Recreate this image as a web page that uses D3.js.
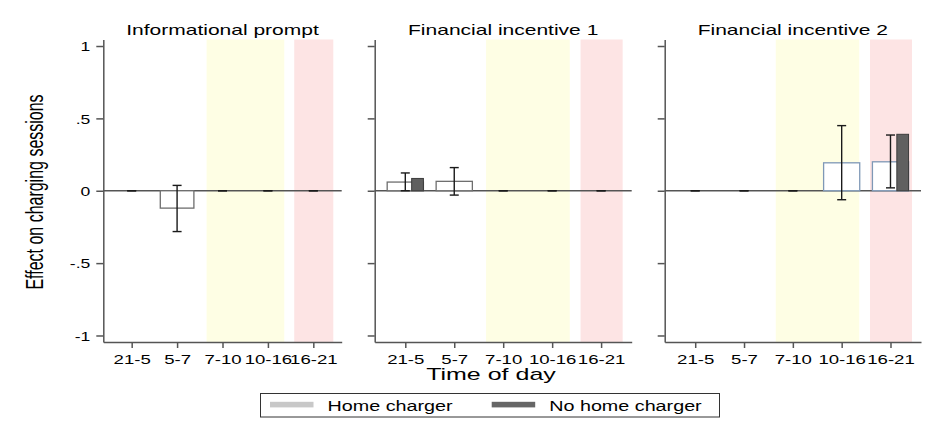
<!DOCTYPE html>
<html>
<head>
<meta charset="utf-8">
<script src="https://cdn.jsdelivr.net/npm/d3@7"></script>
<style>
  body { margin: 0; background: #fff; }
  text { font-family: "Liberation Sans", Arial, Helvetica, sans-serif; fill: #000; }
</style>
</head>
<body>
<svg id="chart" width="927" height="426"></svg>
<script>
"use strict"

// ---------------- data ----------------
const categories = ["21-5", "5-7", "7-10", "10-16", "16-21"];
const panelTitles = ["Informational prompt", "Financial incentive 1", "Financial incentive 2"];
// effect for drivers with a home charger (one row per panel)
const homeValues = [
    [0, -0.12, 0, 0, 0],
    [0.06, 0.065, 0, 0, 0],
    [0, 0, 0, 0.193, 0.2]
];
// effect for drivers without a home charger (null = not shown)
const noHomeValues = [
    [null, null, null, null, null],
    [0.085, null, null, null, null],
    [null, null, null, null, 0.39]
];
const ciLow = [
    [0, -0.282, 0, 0, 0],
    [0, -0.03, 0, 0, 0],
    [0, 0, 0, -0.062, 0.02]
];
const ciHigh = [
    [0, 0.037, 0, 0, 0],
    [0.123, 0.16, 0, 0, 0],
    [0, 0, 0, 0.45, 0.385]
];
const yTicks = [-1, -0.5, 0, 0.5, 1];
const yTickLabels = ["-1", "-.5", "0", ".5", "1"];
// shaded periods, in category units (1 = "21-5" ... 5 = "16-21")
const peakBands = [[2.65, 4.36], [4.58, 5.44]];
const bandColors = ["#fefee4", "#fde4e4"];
const legendLabels = ["Home charger", "No home charger"];

// ---------------- layout ----------------
const svg = d3.select("#chart");
const plotTop = 39.5, plotBottom = 342;
const panelX = [[103.3, 341.7], [374.7, 631.7], [664.7, 921]];
const homeStroke = ["#6e6e6e", "#6e6e6e", "#7f98b6"];

const y = d3.scaleLinear().domain([-1.045, 1.045]).range([plotBottom, plotTop]);

// Stata output looks horizontally stretched: widen horizontal text
const stretch = (sel, k) => sel.each(function () {
    const w = this.getComputedTextLength();
    this.setAttribute("textLength", w * k);
    this.setAttribute("lengthAdjust", "spacingAndGlyphs");
});

panelTitles.forEach((title, p) => {
    const [x0, x1] = panelX[p];
    const x = d3.scaleLinear().domain([0.375, 5.625]).range([x0, x1]);
    const g = svg.append("g");

    // shaded time bands
    g.selectAll("rect.band").data(peakBands).join("rect")
        .attr("class", "band")
        .attr("x", d => x(d[0]))
        .attr("width", d => x(d[1]) - x(d[0]))
        .attr("y", plotTop)
        .attr("height", plotBottom - plotTop)
        .attr("fill", (d, i) => bandColors[i]);

    // zero line
    g.append("line")
        .attr("x1", x0).attr("x2", x1)
        .attr("y1", y(0)).attr("y2", y(0))
        .attr("stroke", "#555").attr("stroke-width", 1.5);

    const idx = categories.map((c, i) => i);

    // home charger bars
    g.selectAll("rect.home").data(idx.filter(i => homeValues[p][i] !== 0)).join("rect")
        .attr("class", "home")
        .attr("x", i => x(i + 1 - 0.37))
        .attr("width", i => x(i + 1 + 0.37) - x(i + 1 - 0.37))
        .attr("y", i => y(Math.max(0, homeValues[p][i])))
        .attr("height", i => Math.abs(y(homeValues[p][i]) - y(0)))
        .attr("fill", "#fff")
        .attr("stroke", homeStroke[p])
        .attr("stroke-width", 1.3);

    // no home charger bars
    g.selectAll("rect.nohome").data(idx.filter(i => noHomeValues[p][i] != null)).join("rect")
        .attr("class", "nohome")
        .attr("x", i => x(i + 1 + 0.13))
        .attr("width", i => x(i + 1 + 0.37) - x(i + 1 + 0.13))
        .attr("y", i => y(Math.max(0, noHomeValues[p][i])))
        .attr("height", i => Math.abs(y(noHomeValues[p][i]) - y(0)))
        .attr("fill", "#606060")
        .attr("stroke", "#3c3c3c")
        .attr("stroke-width", 1);

    // confidence intervals
    const ci = g.selectAll("g.ci").data(idx).join("g").attr("class", "ci")
        .attr("stroke", "#1a1a1a").attr("stroke-width", 1.4);
    ci.append("line")
        .attr("x1", i => x(i + 1)).attr("x2", i => x(i + 1))
        .attr("y1", i => y(ciLow[p][i])).attr("y2", i => y(ciHigh[p][i]));
    ci.append("line")
        .attr("x1", i => x(i + 1) - 4.5).attr("x2", i => x(i + 1) + 4.5)
        .attr("y1", i => y(ciLow[p][i])).attr("y2", i => y(ciLow[p][i]));
    ci.append("line")
        .attr("x1", i => x(i + 1) - 4.5).attr("x2", i => x(i + 1) + 4.5)
        .attr("y1", i => y(ciHigh[p][i])).attr("y2", i => y(ciHigh[p][i]));

    // axes
    const yAxis = d3.axisLeft(y)
        .tickValues(yTicks)
        .tickFormat((d, i) => p === 0 ? yTickLabels[i] : "")
        .tickSize(7).tickSizeOuter(0).tickPadding(6);
    const yG = g.append("g").attr("transform", `translate(${x0},0)`).call(yAxis);

    const xAxis = d3.axisBottom(x)
        .tickValues(categories.map((c, i) => i + 1))
        .tickFormat(d => categories[d - 1])
        .tickSize(6).tickSizeOuter(0).tickPadding(4);
    const xG = g.append("g").attr("transform", `translate(0,${plotBottom})`).call(xAxis);

    [yG, xG].forEach(a => {
        a.attr("font-family", null).attr("font-size", null);
        a.selectAll("path, line").attr("stroke", "#555").attr("stroke-width", 1.5);
    });
    yG.selectAll("text").attr("font-size", 13.5).attr("dy", "0.35em");
    stretch(yG.selectAll("text"), 1.3);
    xG.selectAll("text").attr("font-size", 13).attr("dy", "0.9em");
    stretch(xG.selectAll("text"), 1.43);

    // panel title
    g.append("text")
        .attr("x", (x0 + x1) / 2).attr("y", 35)
        .attr("text-anchor", "middle")
        .attr("font-size", 15)
        .text(title)
        .call(stretch, 1.4);
});

// y-axis title
svg.append("text")
    .attr("transform", `translate(43,192) scale(1.5,1) rotate(-90)`)
    .attr("text-anchor", "middle")
    .attr("font-size", 16)
    .text("Effect on charging sessions");

// x-axis title
svg.append("text")
    .attr("x", 491).attr("y", 380)
    .attr("text-anchor", "middle")
    .attr("font-size", 17)
    .text("Time of day")
    .call(stretch, 1.47);

// ---------------- legend ----------------
const legend = svg.append("g");
legend.append("rect")
    .attr("x", 260.5).attr("y", 393.5)
    .attr("width", 459).attr("height", 23.5)
    .attr("fill", "#fff").attr("stroke", "#333").attr("stroke-width", 1);

const legendX = [270, 491.7];
const legendFill = ["#c8c8c8", "#666"];
legendLabels.forEach((label, i) => {
    legend.append("rect")
        .attr("x", legendX[i]).attr("y", 401.8)
        .attr("width", 43.5).attr("height", 5.6)
        .attr("fill", legendFill[i]);
    legend.append("text")
        .attr("x", legendX[i] + 57.5).attr("y", 411)
        .attr("font-size", 14)
        .text(label)
        .call(stretch, 1.41);
});
</script>
</body>
</html>
